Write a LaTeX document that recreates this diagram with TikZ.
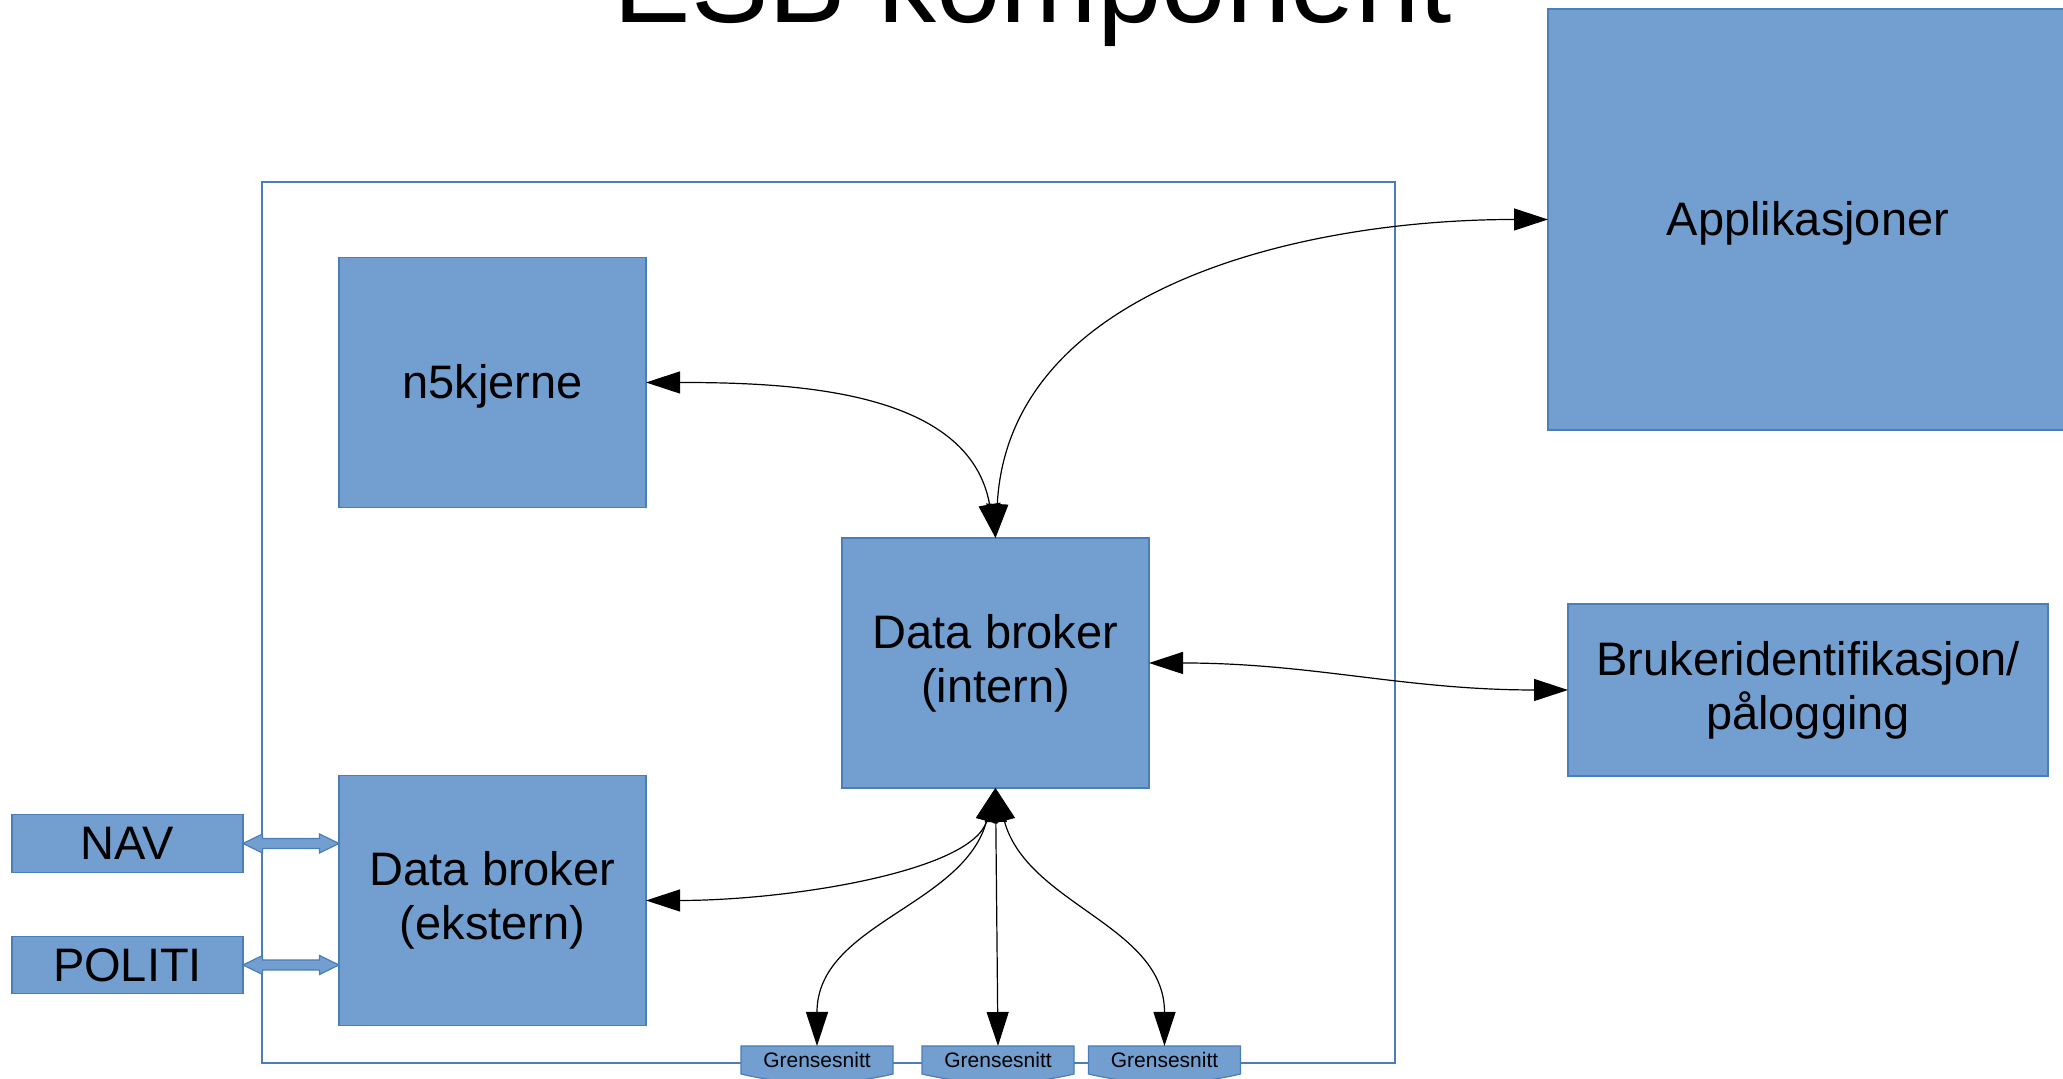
\documentclass[tikz,border=0pt]{standalone}
\usepackage{fontspec}
\setmainfont{Liberation Sans}
\usetikzlibrary{arrows.meta, positioning, calc, backgrounds}
\definecolor{boxfill}{HTML}{729FCF}
\definecolor{boxline}{HTML}{4A7EBB}
\tikzset{
	edge/.style={line width=0.6pt, {Triangle[length=17pt,width=11pt]}-{Triangle[length=17pt,width=11pt]}},
	box nodes/.style={
		rectangle,
		draw=boxline,
		fill=boxfill,
		line width=0.6pt,
		align=center,
		font=\fontsize{23.5}{27}\selectfont,
		outer sep=0pt,
		inner sep=0pt,
		execute at begin node={\rule[-0.212em]{0pt}{1.117em}}
	},
	broker box/.style={box nodes, minimum width=153.5pt, minimum height=125pt},
	side box/.style={box nodes, minimum width=115.5pt, minimum height=28.75pt},
	gs text/.style={
		font=\fontsize{10.5}{12}\selectfont,
		minimum width=76pt,
		minimum height=14pt,
		outer sep=0pt,
		inner sep=0pt,
		execute at begin node={\rule[-0.212em]{0pt}{1.117em}}
	},
	gs shape/.style={draw=boxline, fill=boxfill, line width=0.6pt},
	esb frame/.style={draw=boxline, line width=0.6pt}
}
\newcommand{\blockarrow}[2]{% from node, to node
	\filldraw[draw=boxline, fill=boxfill, line width=0.6pt]
		let \p1=(#1.east), \p2=(#2.west) in
		(\x1,\y1) -- (\x1+9.75pt,\y1+4.75pt) -- (\x1+9.75pt,\y1+2.5pt)
		-- (\x2-9.75pt,\y1+2.5pt) -- (\x2-9.75pt,\y1+4.75pt) -- (\x2,\y1)
		-- (\x2-9.75pt,\y1-4.75pt) -- (\x2-9.75pt,\y1-2.5pt)
		-- (\x1+9.75pt,\y1-2.5pt) -- (\x1+9.75pt,\y1-4.75pt) -- cycle
}
\begin{document}
\begin{tikzpicture}[x=0.5pt, y=0.5pt]
	\useasboundingbox (0,0) rectangle (2063,1079);

	\node[anchor=base, font=\fontsize{58}{64}\selectfont] (title) at (1033,1056) {ESB komponent};

	% inside the ESB
	\node[broker box] (kjerne) at (492.5,696.5) {n5kjerne};
	\node[broker box, below=134pt of kjerne] (ekstern) {Data broker\\(ekstern)};
	\node[broker box] (intern) at (995.5,416) {Data broker\\(intern)};

	% outside
	\node[box nodes, minimum width=260pt, minimum height=210.5pt] (appl) at (1808,859.5) {Applikasjoner};
	\node[box nodes, minimum width=240pt, minimum height=86pt] (bruker) at (1808,389) {Brukeridentifikasjon/\\pålogging};
	\node[side box] (nav) at (127.5,235.5) {NAV};
	\node[side box, below=32pt of nav] (politi) {POLITI};

	% grensesnitt
	\node[gs text] (gs1) at (817,19) {Grensesnitt};
	\node[gs text] (gs2) at (998,19) {Grensesnitt};
	\node[gs text] (gs3) at (1164.5,19) {Grensesnitt};

	\begin{pgfonlayer}{background}
		\draw[esb frame] (262,897) rectangle (1395,16);
		\foreach \g in {gs1,gs2,gs3}
			\filldraw[gs shape] (\g.north west) -- (\g.north east) -- (\g.south east)
				.. controls +(-25pt,-6pt) and +(25pt,-6pt) .. (\g.south west) -- cycle;
	\end{pgfonlayer}

	\draw[edge] (intern.north) to[out=87, in=180] (appl.west);
	\draw[edge] (kjerne.east) to[out=0, in=100] (intern.north);
	\draw[edge] (intern.east) to[out=0, in=180] (bruker.west);
	\draw[edge] (ekstern.east) to[out=0, in=255, in looseness=0.6] (intern.south);
	\draw[edge] (intern.south) to[out=255, in=90] (gs1.north);
	\draw[edge] (intern.south) -- (gs2.north);
	\draw[edge] (intern.south) to[out=285, in=90] (gs3.north);

	\blockarrow{nav}{ekstern};
	\blockarrow{politi}{ekstern};
\end{tikzpicture}
\end{document}
